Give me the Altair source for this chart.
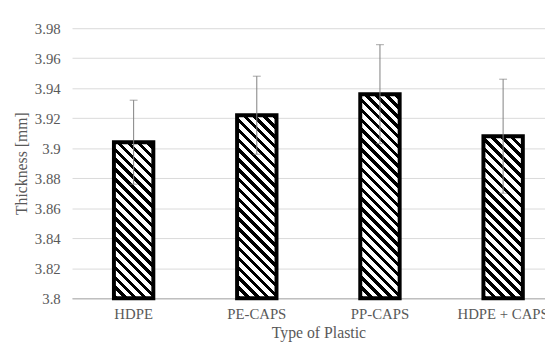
import altair as alt
import pandas as pd

# ---- data ----
types = ["HDPE", "PE-CAPS", "PP-CAPS", "HDPE + CAPS"]
means = [3.904, 3.922, 3.936, 3.908]
sds = [0.028, 0.026, 0.033, 0.038]
y_ticks = [3.8, 3.82, 3.84, 3.86, 3.88, 3.9, 3.92, 3.94, 3.96, 3.98]

df = pd.DataFrame({
    "Type": types,
    "Mean": means,
    "Lo": [m - s for m, s in zip(means, sds)],
    "Hi": [m + s for m, s in zip(means, sds)],
})

# ---- style ----
Y_MIN, Y_MAX = 3.8, 3.98
PLOT_W, PLOT_H = 480, 274
BAR_W = 40
PERIOD = 10.0
BLACK = 4.5
FONT = "Liberation Serif"
TXT = "#595959"
GRID = "#d9d9d9"
ERR = "#808080"


def hatch(h, w=BAR_W):
    """Diagonal (\\) stripes built as a hard-stop linear gradient."""
    r = h / w
    a = (1 + r) / (1 + r * r)
    total = w + h
    stops = []
    k = 0
    while k * PERIOD < total:
        s0 = k * PERIOD
        s1 = s0 + BLACK
        s2 = s0 + PERIOD
        o0, o1, o2 = [min(s / total, 1.0) for s in (s0, s1, s2)]
        stops += [
            {"offset": o0, "color": "black"},
            {"offset": o1, "color": "black"},
            {"offset": o1, "color": "white"},
            {"offset": o2, "color": "white"},
        ]
        k += 1
    return {"gradient": "linear", "x1": 0, "y1": 1, "x2": a, "y2": 1 - a * r,
            "stops": stops}


x_scale = alt.Scale(domain=types, range=[0, 500], paddingInner=0.68, paddingOuter=0.34)
x_axis = alt.Axis(title="Type of Plastic", labelAngle=0, labelPadding=9, ticks=False,
                  domainColor="#bfbfbf", domainWidth=1.5, titlePadding=3, grid=False)
y_scale = alt.Scale(domain=[Y_MIN, Y_MAX], nice=False, zero=False)
y_axis = alt.Axis(title="Thickness [mm]", values=y_ticks, format=".2~f",
                  labelPadding=12, ticks=False, domain=False, grid=True,
                  gridColor=GRID, gridWidth=1, titlePadding=5)

X = alt.X("Type:N", scale=x_scale, axis=x_axis, sort=types)

layers = []
for t, m in zip(types, means):
    h = (m - Y_MIN) / (Y_MAX - Y_MIN) * PLOT_H
    layers.append(
        alt.Chart(df).transform_filter(alt.datum.Type == t)
        .mark_bar(fill=hatch(h), stroke="black", strokeWidth=4)
        .encode(x=X, y=alt.Y("Mean:Q", scale=y_scale, axis=y_axis),
                y2=alt.datum(Y_MIN))
    )

rule = alt.Chart(df).mark_rule(color=ERR, strokeWidth=1).encode(
    x=X, y=alt.Y("Lo:Q", scale=y_scale, axis=y_axis), y2="Hi:Q")
cap_hi = alt.Chart(df).mark_tick(color=ERR, thickness=1, size=8, orient="horizontal").encode(
    x=X, y=alt.Y("Hi:Q", scale=y_scale, axis=y_axis))
cap_lo = alt.Chart(df).mark_tick(color=ERR, thickness=1, size=8, orient="horizontal").encode(
    x=X, y=alt.Y("Lo:Q", scale=y_scale, axis=y_axis))

chart = alt.layer(*layers, rule, cap_hi, cap_lo).properties(
    width=PLOT_W, height=PLOT_H,
    autosize=alt.AutoSizeParams(type="none"),
    padding={"left": 65, "top": 18, "right": 0, "bottom": 44},
    background="white",
).configure_view(stroke=None).configure_axis(
    labelFont=FONT, labelFontSize=15, labelColor=TXT,
    titleFont=FONT, titleFontSize=16, titleColor=TXT, titleFontWeight="normal",
)

chart.save("out.html", embed_options={"renderer": "svg", "actions": False})
